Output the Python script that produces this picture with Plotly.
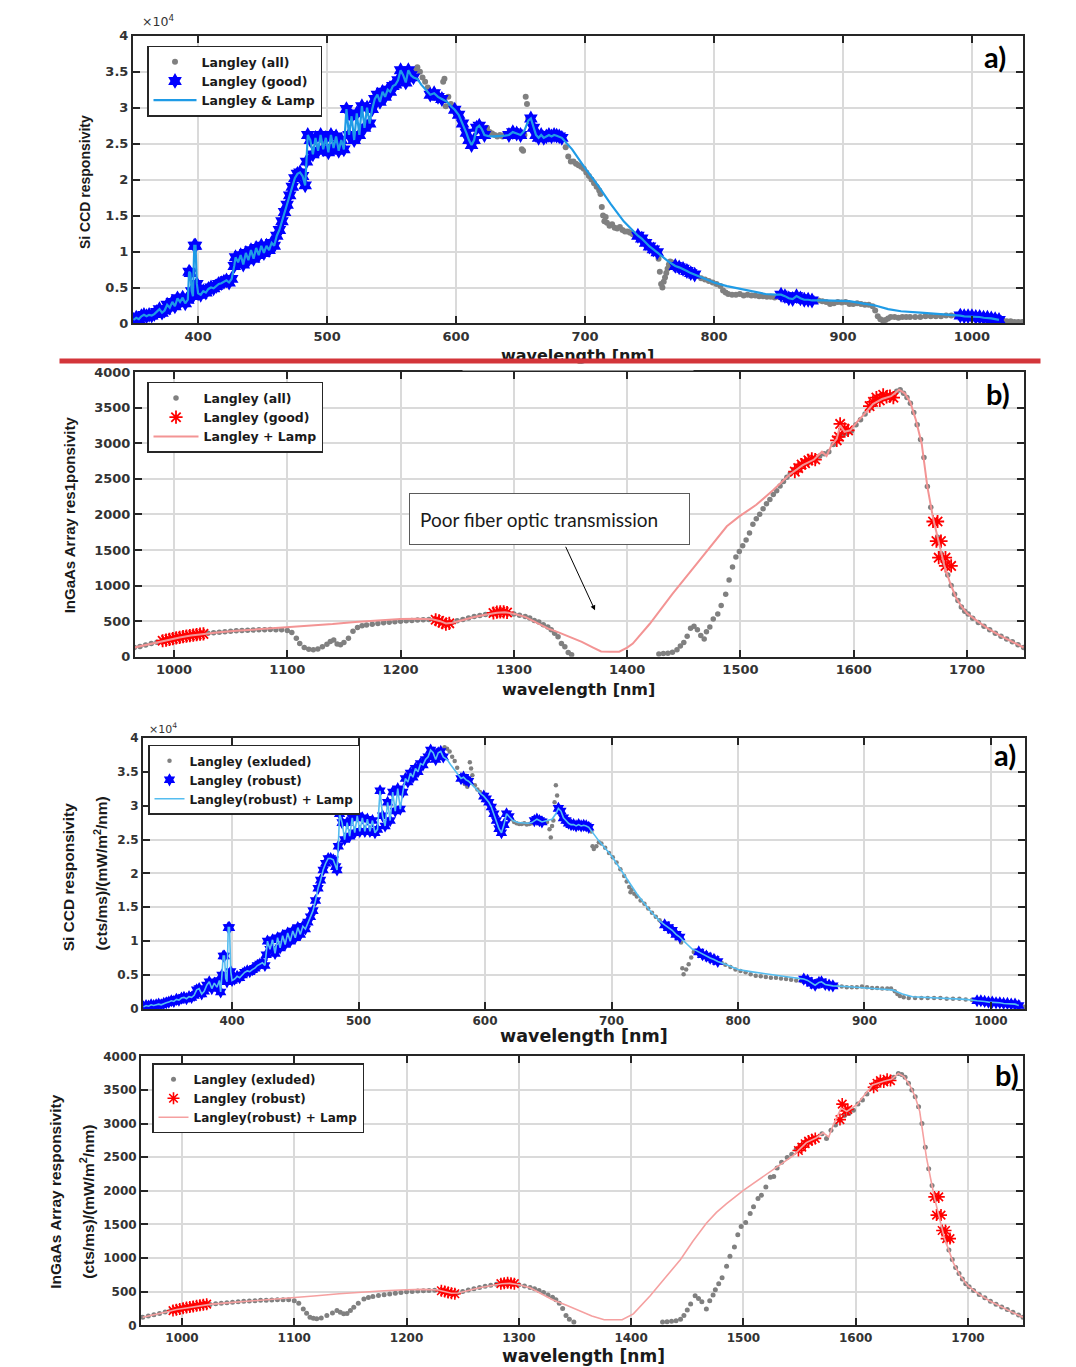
import plotly.graph_objects as go

W, H = 1076, 1367

# ================= Panel a (top): Si CCD responsivity, values in units of 1e4 =================
a1_good_wl = [
    350, 352, 354, 356, 358, 360, 362, 364, 366, 368, 370, 372, 374, 376, 378, 380, 382, 384, 386, 388, 390, 392,
    393, 394, 395, 396, 397, 398, 399,
    400, 402, 404, 406, 408, 410, 412, 414, 416, 418, 420, 422, 424, 426,
    428, 429, 431, 433, 435, 437, 439, 441, 443, 445, 447, 449, 451, 453, 455, 457, 459,
    461, 463, 465, 467, 469, 471, 473, 475, 477, 479, 481, 483,
    484, 485, 487, 489, 491, 493, 495, 497, 499, 501, 503, 505, 507, 509, 511, 513,
    515, 517, 519, 521, 523, 525, 527, 529, 531, 533, 535, 537, 539, 541,
    543, 545, 547, 549, 551, 553, 555, 557, 559, 561, 563, 565, 567,
    580, 583, 586, 589,
    599, 602, 605, 608, 610, 612, 614, 616, 618, 620, 622,
    641, 644, 647, 650,
    658, 660, 662, 664, 666, 668, 670, 672, 674, 676, 678, 680, 682,
    741, 744, 747, 750, 753, 756,
    770, 773, 776, 779, 782, 785,
    852, 855, 858, 861, 864, 867, 870, 873, 876,
    991, 994, 997, 1000, 1003, 1006, 1009, 1012, 1015, 1018, 1021]
a1_good_val = [
    0.05, 0.08, 0.06, 0.10, 0.12, 0.10, 0.12, 0.11, 0.13, 0.16, 0.20, 0.15, 0.18, 0.26, 0.22, 0.30, 0.24, 0.35, 0.30, 0.36, 0.28, 0.33,
    0.72, 0.70, 0.45, 0.38, 1.08, 1.08, 0.55,
    0.42, 0.40, 0.45, 0.43, 0.48, 0.50, 0.49, 0.52, 0.55, 0.56, 0.58, 0.60, 0.57, 0.62,
    0.80, 0.92, 0.85, 0.95, 0.82, 0.98, 0.88, 1.02, 0.90, 1.05, 0.95, 1.08, 0.98, 1.08, 1.02, 1.12, 1.08,
    1.22, 1.30, 1.42, 1.55, 1.65, 1.78, 1.90, 2.02, 2.08, 2.10, 2.05, 1.92,
    2.25, 2.62, 2.55, 2.35, 2.58, 2.40, 2.62, 2.42, 2.58, 2.38, 2.62, 2.44, 2.60, 2.40, 2.55, 2.42,
    2.98, 2.62, 2.88, 2.55, 2.92, 2.62, 3.02, 2.72, 3.00, 2.78, 2.98, 3.12, 3.18, 3.08,
    3.22, 3.15, 3.25, 3.22, 3.30, 3.32, 3.38, 3.52, 3.45, 3.35, 3.52, 3.45, 3.42,
    3.18, 3.20, 3.15, 3.12,
    2.97, 2.90, 2.78, 2.65, 2.55, 2.48, 2.55, 2.72, 2.75, 2.70, 2.62,
    2.62, 2.66, 2.64, 2.62,
    2.85, 2.72, 2.62, 2.58, 2.62, 2.58, 2.60, 2.62, 2.60, 2.62, 2.61, 2.60, 2.58,
    1.22, 1.18, 1.12, 1.07, 1.03, 0.99,
    0.80, 0.78, 0.76, 0.73, 0.70, 0.68,
    0.40, 0.38, 0.35, 0.34, 0.38, 0.35, 0.33, 0.33, 0.32,
    0.11, 0.10, 0.10, 0.10, 0.09, 0.09, 0.08, 0.08, 0.07, 0.06, 0.05]
a1_excl_wl = [
    568, 570, 572, 574, 576, 578,
    590, 591, 592, 594, 596, 598,
    624, 626, 628, 630, 632, 634, 636, 638,
    651, 652, 653, 654, 655, 656, 657,
    685, 687, 689, 691, 693, 695, 697, 699, 701, 703, 705, 707, 709, 711,
    712, 713, 714, 715, 716, 717,
    719, 721, 723, 725, 727, 729, 731, 733, 735, 737, 739,
    757, 758, 759, 760, 761, 762, 763, 764, 765, 766, 767,
    787, 790, 793, 796, 799, 802, 805, 807, 809, 811,
    814, 817, 820, 823, 826, 829, 832, 835, 838, 841, 844, 847, 850,
    878, 881, 884, 887, 890, 893, 896, 899, 902, 905, 908, 911, 914, 917, 920, 923,
    925, 927, 929, 931, 933, 935, 937,
    940, 943, 946, 949, 952, 956, 960, 964, 968, 972, 976, 980, 984, 988,
    1024, 1027, 1030, 1033, 1036, 1039]
a1_excl_val = [
    3.52, 3.56, 3.50, 3.42, 3.36, 3.28,
    3.36, 3.40, 3.02, 3.15, 3.05, 2.99,
    2.72, 2.66, 2.64, 2.62, 2.60, 2.62, 2.60, 2.63,
    2.42, 2.40, 2.62, 3.15, 3.05, 2.85, 2.78,
    2.45, 2.32, 2.25, 2.25, 2.22, 2.20, 2.18, 2.15, 2.10, 2.05, 2.00, 1.95, 1.90, 1.85,
    1.80, 1.62, 1.50, 1.42, 1.48, 1.40,
    1.36, 1.38, 1.33, 1.32, 1.34, 1.30, 1.28, 1.28, 1.26, 1.24, 1.22,
    0.90, 0.72, 0.55, 0.50, 0.58, 0.64, 0.70, 0.76, 0.82, 0.86, 0.85,
    0.66, 0.63, 0.61, 0.59, 0.57, 0.55, 0.52, 0.46, 0.43, 0.41,
    0.40, 0.40, 0.41, 0.39, 0.40, 0.39, 0.39, 0.38, 0.38, 0.37, 0.37, 0.36, 0.37,
    0.33, 0.32, 0.31, 0.30, 0.27, 0.28, 0.30, 0.29, 0.30, 0.27, 0.27, 0.28, 0.27, 0.26, 0.26, 0.24,
    0.18, 0.10, 0.06, 0.04, 0.05, 0.07, 0.09,
    0.09, 0.08, 0.09, 0.09, 0.09, 0.09, 0.09, 0.10, 0.10, 0.10, 0.10, 0.11, 0.11, 0.11,
    0.04, 0.03, 0.03, 0.02, 0.02, 0.02]
a1_lamp_wl = [570, 573, 576, 579, 593, 596, 626, 630, 634, 638, 653, 656,
              690, 700, 710, 720, 730, 738, 760, 764, 767,
              790, 800, 810, 820, 830, 840, 848,
              885, 895, 905, 915, 925, 935, 945, 960, 975, 988]
a1_lamp_val = [3.40, 3.32, 3.26, 3.20, 3.08, 3.02, 2.60, 2.60, 2.60, 2.61, 2.68, 2.82,
               2.42, 2.16, 1.92, 1.66, 1.42, 1.27, 0.93, 0.87, 0.83,
               0.64, 0.57, 0.52, 0.48, 0.44, 0.41, 0.40,
               0.32, 0.31, 0.31, 0.28, 0.25, 0.20, 0.17, 0.15, 0.13, 0.12]

# ================= Panel b (2nd): InGaAs responsivity =================
b1_good_wl = [990, 993, 996, 999, 1002, 1005, 1008, 1011, 1014, 1017, 1020, 1023, 1026,
              1231, 1234, 1237, 1240, 1243,
              1282, 1285, 1288, 1291, 1294,
              1548, 1551, 1554, 1557, 1560, 1563, 1566,
              1585, 1587, 1588, 1592, 1595,
              1614, 1617, 1620, 1623, 1626, 1629, 1632, 1635,
              1670, 1674, 1673, 1677, 1675, 1681, 1681, 1686]
b1_good_val = [225, 235, 245, 255, 265, 272, 282, 290, 298, 305, 312, 318, 322,
               520, 505, 480, 460, 470,
               615, 628, 632, 630, 622,
               2600, 2650, 2700, 2720, 2760, 2780, 2770,
               3040, 3090, 3270, 3200, 3180,
               3520, 3580, 3640, 3600, 3680, 3650, 3660, 3640,
               1900, 1900, 1624, 1624, 1392, 1392, 1276, 1276]
b1_line_wl = [965, 975, 985, 995, 1005, 1015, 1025, 1040, 1055, 1070, 1085, 1100, 1120, 1140, 1160,
              1180, 1200, 1215, 1228, 1235, 1240, 1246, 1255, 1265, 1275, 1285, 1292, 1300, 1310, 1320,
              1330, 1340, 1350, 1360, 1370, 1377, 1385, 1393, 1400, 1405, 1420, 1440, 1461, 1476, 1488,
              1499, 1514, 1529, 1543, 1555, 1565, 1572, 1576, 1580, 1585, 1588, 1592, 1597, 1603, 1610,
              1617, 1625, 1633, 1640, 1645, 1650, 1655, 1660, 1665, 1670, 1675, 1680, 1685, 1690, 1695,
              1700, 1710, 1720, 1730, 1740, 1750]
b1_line_val = [130, 165, 205, 240, 270, 298, 320, 345, 365, 380, 395, 410, 435, 460, 490,
               512, 530, 535, 528, 500, 468, 478, 520, 560, 590, 618, 625, 605, 560, 480,
               400, 340, 280, 210, 130, 75, 70, 72, 130, 185, 464, 882, 1299, 1600, 1833,
               1972, 2134, 2343, 2552, 2691, 2770, 2880, 2820, 2960, 3060, 3250, 3160, 3180, 3300, 3420,
               3550, 3620, 3660, 3750, 3700, 3573, 3318, 2993, 2390, 1950, 1620, 1280, 1040, 840, 710,
               610, 490, 380, 290, 210, 130]
b1_all_wl = [965, 970, 975, 980, 985, 990, 995, 1000, 1005, 1010, 1015, 1020, 1025, 1030, 1035, 1040,
             1045, 1050, 1055, 1060, 1065, 1070, 1075, 1080, 1085, 1090, 1095, 1100,
             1104, 1108, 1111, 1115, 1119, 1123, 1127, 1131, 1135, 1138, 1141, 1144, 1147, 1150, 1154,
             1158, 1162, 1166, 1170,
             1175, 1180, 1185, 1190, 1195, 1200, 1205, 1210, 1215, 1220, 1225, 1230, 1235, 1240, 1245,
             1250, 1255, 1260, 1265, 1270, 1275, 1280, 1285, 1290, 1295, 1300,
             1305, 1310, 1314, 1318, 1322, 1326, 1330, 1333, 1336, 1339, 1342, 1345, 1348, 1351,
             1428, 1432, 1436, 1440, 1444, 1447, 1450, 1453, 1456, 1459, 1462, 1465, 1468, 1470, 1473,
             1476, 1480, 1483, 1487, 1490, 1493, 1496, 1499, 1502, 1505, 1508, 1511, 1514, 1517, 1520,
             1523, 1526, 1529, 1532, 1535, 1538, 1541, 1544, 1547,
             1551, 1555, 1560, 1565, 1570, 1574, 1578, 1582, 1586, 1590, 1594, 1598, 1602, 1606, 1610,
             1614, 1618, 1622, 1626, 1630, 1634, 1638, 1641, 1644, 1647, 1650, 1653, 1656, 1659, 1662,
             1665, 1668, 1671, 1674, 1677, 1680, 1683, 1686, 1689, 1692, 1695, 1698, 1701, 1705, 1710,
             1715, 1720, 1725, 1730, 1735, 1740, 1745, 1750]
b1_all_val = [130, 145, 165, 185, 205, 222, 240, 258, 272, 288, 300, 312, 322, 330, 338, 345,
              352, 358, 364, 368, 372, 375, 378, 380, 382, 380, 378, 370,
              340, 260, 185, 130, 105, 100, 110, 140, 175, 215, 235, 180, 170, 200, 260,
              360, 410, 435, 445,
              458, 468, 478, 485, 492, 498, 505, 510, 515, 520, 525, 520, 505, 470, 478,
              505, 525, 545, 565, 580, 595, 605, 615, 622, 615, 600,
              585, 565, 545, 510, 487, 450, 420, 380, 330, 280, 185, 140, 60, 30,
              40, 45, 50, 65, 100, 150, 200, 290, 400, 430, 380, 300, 250, 350, 420,
              530, 600, 720, 880, 1080, 1260, 1400, 1480, 1560, 1640, 1740, 1860, 1940, 2000, 2080,
              2150, 2210, 2280, 2330, 2400, 2460, 2520, 2570, 2620,
              2660, 2700, 2730, 2780, 2820, 2850, 2880, 2980, 3060, 3110, 3140, 3170, 3260, 3330, 3410,
              3490, 3560, 3610, 3640, 3660, 3680, 3730, 3750, 3700, 3640, 3560, 3430, 3260, 3050, 2800,
              2390, 2100, 1900, 1680, 1450, 1290, 1150, 1000, 880, 790, 700, 640, 600, 540, 480,
              430, 380, 330, 290, 250, 210, 170, 130]

# ================= Panel a (3rd): Si CCD robust, values in units of 1e4 =================
a2_good_wl = [
    330, 332, 334, 336, 338, 340, 342, 344, 346, 348, 350, 352, 354, 356, 358, 360, 362, 364, 366, 368,
    370, 372, 374, 376, 378, 380, 382, 384, 386, 388, 390,
    391, 392, 393, 394, 395, 396, 397, 398, 399,
    400, 402, 404, 406, 408, 410, 412, 414, 416, 418, 420, 422, 424, 426,
    427, 428, 430, 432, 434, 436, 438, 440, 442, 444, 446, 448, 450, 452, 454, 456, 458,
    460, 462, 464, 466, 468, 470, 472, 474, 476, 478, 480, 482, 483,
    484, 485, 487, 489, 491, 493, 495, 497, 499, 501, 503, 505, 507, 509, 511, 513, 515,
    517, 519, 521, 523, 525, 527, 529, 531, 533, 535,
    537, 539, 541, 543, 545, 547, 549, 551, 553, 555, 557, 559, 561, 563, 565, 567,
    581, 583, 585, 587,
    599, 601, 603, 605, 607, 609, 611, 613, 615, 617, 619,
    639, 641, 643, 645,
    658, 660, 662, 664, 666, 668, 670, 672, 674, 676, 678, 680, 682,
    742, 745, 748, 751, 754,
    769, 772, 775, 778, 781, 784,
    852, 855, 858, 861, 864, 866, 869, 872, 875,
    989, 992, 995, 998, 1001, 1004, 1007, 1010, 1013, 1016, 1019, 1022]
a2_good_val = [
    0.03, 0.05, 0.04, 0.06, 0.05, 0.06, 0.07, 0.06, 0.08, 0.09, 0.10, 0.12, 0.11, 0.14, 0.13, 0.16, 0.17, 0.15, 0.18, 0.17,
    0.20, 0.28, 0.30, 0.22, 0.26, 0.35, 0.40, 0.30, 0.38, 0.32, 0.42,
    0.25, 0.50, 0.78, 0.78, 0.45, 0.40, 1.20, 1.20, 0.55,
    0.42, 0.44, 0.48, 0.46, 0.50, 0.54, 0.56, 0.55, 0.58, 0.60, 0.64, 0.66, 0.68, 0.64,
    0.80, 1.00, 0.88, 1.02, 0.82, 1.05, 0.90, 1.08, 0.95, 1.12, 1.00, 1.15, 1.05, 1.20, 1.10, 1.22, 1.18,
    1.28, 1.36, 1.45, 1.60, 1.78, 1.90, 2.05, 2.15, 2.22, 2.22, 2.20, 2.10, 2.05,
    2.40, 2.88, 2.75, 2.50, 2.75, 2.55, 2.82, 2.60, 2.85, 2.62, 2.82, 2.62, 2.80, 2.62, 2.78, 2.60, 2.65,
    3.22, 2.85, 2.70, 3.05, 2.78, 3.20, 2.92, 3.25, 2.95, 3.20,
    3.40, 3.35, 3.48, 3.42, 3.55, 3.50, 3.62, 3.60, 3.68, 3.72, 3.82, 3.78, 3.68, 3.78, 3.80, 3.72,
    3.40, 3.42, 3.38, 3.36,
    3.14, 3.10, 3.05, 2.98, 2.88, 2.78, 2.66, 2.60, 2.72, 2.88, 2.84,
    2.78, 2.80, 2.78, 2.76,
    2.96, 2.92, 2.82, 2.78, 2.74, 2.72, 2.72, 2.70, 2.72, 2.70, 2.71, 2.70, 2.68,
    1.24, 1.20, 1.16, 1.10, 1.06,
    0.84, 0.80, 0.78, 0.75, 0.73, 0.70,
    0.44, 0.42, 0.38, 0.35, 0.39, 0.40, 0.36, 0.35, 0.34,
    0.12, 0.12, 0.11, 0.10, 0.10, 0.09, 0.09, 0.08, 0.08, 0.07, 0.07, 0.05]
a2_excl_wl = [
    568, 570, 572, 574, 576, 578,
    584, 586, 588, 589, 590, 592, 594, 596,
    621, 623, 625, 627, 629, 631, 633, 635, 637,
    647, 649, 651, 652, 653, 654, 655, 656, 657,
    684, 685, 686, 688, 690, 692, 695, 698, 701, 704, 707, 710, 712, 714, 715, 716, 718, 720, 723, 726,
    729, 732, 735, 738, 741,
    755, 756, 757, 759, 761, 763, 765, 767,
    787, 790, 794, 798, 802, 806, 810, 814, 818, 822, 826, 830, 834, 838, 842, 846, 850,
    878, 882, 886, 890, 894, 898, 902, 906, 910, 914, 918, 921, 924, 926, 928, 931, 935, 940, 945, 950,
    955, 960, 965, 970, 975, 980, 985,
    1024, 1026]
a2_excl_val = [
    3.86, 3.84, 3.80, 3.72, 3.66, 3.56,
    3.32, 3.28, 3.64, 3.55, 3.45, 3.30, 3.24, 3.20,
    2.80, 2.76, 2.74, 2.73, 2.73, 2.74, 2.72, 2.73, 2.74,
    2.78, 2.76, 2.65, 2.53, 2.70, 2.78, 3.05, 3.30, 3.15,
    2.62, 2.40, 2.36, 2.40, 2.46, 2.44, 2.38, 2.30, 2.24, 2.16, 2.06, 1.96, 1.88, 1.80, 1.72, 1.76, 1.70, 1.66, 1.60, 1.55,
    1.48, 1.42, 1.36, 1.31, 1.26,
    0.98, 0.60, 0.51, 0.58, 0.66, 0.76, 0.84, 0.86,
    0.68, 0.65, 0.62, 0.58, 0.56, 0.54, 0.51, 0.49, 0.48, 0.47, 0.46, 0.46, 0.45, 0.44, 0.43, 0.42, 0.41,
    0.34, 0.33, 0.32, 0.32, 0.32, 0.33, 0.32, 0.31, 0.31, 0.30, 0.30, 0.30, 0.26, 0.22, 0.19, 0.17, 0.16, 0.16, 0.16, 0.16,
    0.16, 0.16, 0.15, 0.15, 0.15, 0.14, 0.13,
    0.04, 0.03]
a2_lamp_wl = [570, 573, 576, 579, 590, 594, 597, 622, 626, 630, 634, 637, 649, 653, 656,
              690, 700, 710, 720, 730, 738, 760, 764, 767,
              790, 800, 810, 820, 830, 840, 848,
              885, 895, 905, 915, 922, 930, 938, 950, 965, 980]
a2_lamp_val = [3.68, 3.60, 3.52, 3.44, 3.30, 3.22, 3.17, 2.78, 2.75, 2.74, 2.74, 2.75, 2.78, 2.80, 2.88,
               2.48, 2.26, 1.98, 1.70, 1.46, 1.30, 0.95, 0.88, 0.86,
               0.66, 0.58, 0.55, 0.52, 0.49, 0.47, 0.45,
               0.33, 0.32, 0.31, 0.29, 0.28, 0.22, 0.18, 0.17, 0.16, 0.14]

# ================= Panel b (4th): InGaAs robust =================
b2_good_wl = [992, 995, 998, 1001, 1004, 1007, 1010, 1013, 1016, 1019, 1022,
              1231, 1234, 1237, 1240, 1243,
              1284, 1287, 1290, 1293, 1296,
              1549, 1552, 1555, 1558, 1561, 1564,
              1586, 1588, 1591, 1593,
              1616, 1619, 1622, 1625, 1628, 1631,
              1670, 1674, 1672, 1676, 1677, 1680, 1681, 1684]
b2_good_val = [220, 232, 245, 255, 265, 272, 282, 292, 300, 308, 315,
               515, 505, 490, 478, 470,
               620, 628, 632, 628, 620,
               2600, 2650, 2700, 2740, 2760, 2780,
               3060, 3290, 3190, 3210,
               3540, 3600, 3640, 3620, 3660, 3640,
               1910, 1910, 1640, 1640, 1410, 1410, 1290, 1290]
b2_line_wl = [965, 975, 985, 995, 1005, 1015, 1025, 1040, 1055, 1070, 1085, 1100, 1120, 1140, 1160,
              1180, 1200, 1215, 1228, 1235, 1240, 1246, 1255, 1265, 1275, 1285, 1292, 1300, 1310, 1320,
              1330, 1343, 1355, 1365, 1376, 1392, 1402, 1417, 1430, 1444, 1455, 1467, 1476, 1485, 1500,
              1514, 1527, 1544, 1556, 1565, 1571, 1576, 1580, 1587, 1592, 1601, 1608, 1615, 1625, 1632,
              1638, 1643, 1648, 1653, 1657, 1663, 1670, 1679, 1687, 1693, 1700, 1710, 1719, 1730, 1740,
              1749]
b2_line_val = [122, 155, 195, 235, 262, 290, 312, 335, 355, 370, 385, 410, 440, 470, 495,
               515, 530, 535, 525, 500, 478, 482, 520, 560, 590, 620, 625, 605, 560, 470,
               380, 294, 210, 140, 83, 83, 171, 440, 700, 980, 1250, 1518, 1680, 1811, 2007,
               2170, 2326, 2521, 2717, 2790, 2864, 2800, 2980, 3231, 3180, 3280, 3430, 3574, 3630, 3660,
               3745, 3700, 3574, 3400, 3182, 2497, 1909, 1297, 930, 740, 587, 460, 367, 270, 190,
               122]
b2_excl_wl = [965, 970, 975, 980, 985, 990, 995, 1000, 1005, 1010, 1015, 1020, 1025, 1030, 1035, 1040,
              1045, 1050, 1055, 1060, 1065, 1070, 1075, 1080, 1085, 1090, 1095, 1100,
              1104, 1108, 1111, 1114, 1117, 1120, 1124, 1129, 1134, 1138, 1141, 1144, 1147, 1150, 1153,
              1157, 1162, 1166, 1170,
              1175, 1180, 1185, 1190, 1195, 1200, 1205, 1210, 1215, 1220, 1225, 1230, 1235, 1240, 1245,
              1250, 1255, 1260, 1265, 1270, 1275, 1280, 1285, 1290, 1295, 1300,
              1305, 1310, 1314, 1318, 1322, 1326, 1330, 1333, 1336, 1339, 1342, 1345, 1349,
              1428, 1432, 1436, 1440, 1444, 1447, 1450, 1453, 1457, 1460, 1463, 1467, 1470, 1473, 1475,
              1478, 1481, 1485, 1488, 1492, 1495, 1498, 1502, 1506, 1509, 1513, 1516, 1520, 1524, 1527,
              1530, 1534, 1539, 1543, 1547,
              1551, 1555, 1560, 1565, 1570, 1574, 1578, 1582, 1586, 1590, 1594, 1598, 1602, 1606, 1610,
              1614, 1618, 1622, 1626, 1630, 1634, 1638, 1641, 1644, 1647, 1650, 1653, 1656, 1659, 1662,
              1665, 1668, 1671, 1674, 1677, 1680, 1683, 1686, 1689, 1692, 1695, 1698, 1701, 1705, 1710,
              1715, 1720, 1725, 1730, 1735, 1740, 1745, 1749]
b2_excl_val = [122, 140, 158, 178, 198, 220, 235, 248, 262, 278, 290, 302, 312, 322, 330, 337,
               345, 352, 358, 363, 368, 372, 375, 378, 380, 382, 380, 367,
               330, 245, 180, 122, 105, 98, 110, 147, 185, 220, 195, 171, 175, 220, 269,
               330, 392, 415, 430,
               445, 455, 465, 478, 490, 500, 505, 510, 515, 520, 522, 515, 500, 478, 480,
               505, 525, 545, 565, 582, 598, 610, 620, 625, 618, 605,
               585, 565, 545, 520, 490, 450, 420, 380, 330, 250, 147, 90, 49,
               49, 55, 60, 68, 90, 147, 230, 318, 440, 400, 352, 245, 367, 450, 529,
               620, 710, 880, 1028, 1165, 1346, 1469, 1528, 1665, 1763, 1885, 1934, 2056, 2203, 2213,
               2340, 2424, 2497, 2546, 2620,
               2680, 2720, 2760, 2790, 2850, 2780, 2900, 2980, 3050, 3120, 3150, 3200, 3290, 3350, 3440,
               3530, 3590, 3630, 3650, 3660, 3690, 3745, 3730, 3690, 3600, 3500, 3400, 3250, 3000, 2650,
               2330, 2080, 1870, 1650, 1440, 1270, 1120, 980, 860, 770, 690, 620, 575, 520, 460,
               410, 360, 315, 275, 235, 195, 155, 122]


def merge(wa, va, wb, vb):
    pairs = sorted(zip(list(wa) + list(wb), list(va) + list(vb)))
    return [p[0] for p in pairs], [p[1] for p in pairs]


a1_all_wl, a1_all_val = merge(a1_good_wl, a1_good_val, a1_excl_wl, a1_excl_val)
a1_line_wl, a1_line_val = merge(a1_good_wl, a1_good_val, a1_lamp_wl, a1_lamp_val)
a2_line_wl, a2_line_val = merge(a2_good_wl, a2_good_val, a2_lamp_wl, a2_lamp_val)

GREY = "#808080"
FRAME = "#262626"
GRID = "#dadada"
TICKC = "#333333"


def px_x(x):
    return x / W


def px_y(y):
    return 1 - y / H


fig = go.Figure()

# panel 1
fig.add_trace(go.Scatter(x=a1_all_wl, y=a1_all_val, mode="markers", name="Langley (all)",
                         marker=dict(symbol="circle", size=6, color=GREY),
                         xaxis="x", yaxis="y", legend="legend"))
fig.add_trace(go.Scatter(x=a1_good_wl, y=a1_good_val, mode="markers", name="Langley (good)",
                         marker=dict(symbol="hexagram", size=12, color="#0000ff"),
                         xaxis="x", yaxis="y", legend="legend"))
fig.add_trace(go.Scatter(x=a1_line_wl, y=a1_line_val, mode="lines", name="Langley & Lamp",
                         line=dict(color="#1f9be6", width=2.2),
                         xaxis="x", yaxis="y", legend="legend"))
# panel 2
fig.add_trace(go.Scatter(x=b1_all_wl, y=b1_all_val, mode="markers", name="Langley (all)",
                         marker=dict(symbol="circle", size=5.5, color=GREY),
                         xaxis="x2", yaxis="y2", legend="legend2"))
fig.add_trace(go.Scatter(x=b1_good_wl, y=b1_good_val, mode="markers", name="Langley (good)",
                         marker=dict(symbol="asterisk-open", size=11, color="#ff0000",
                                     line=dict(color="#ff0000", width=1.8)),
                         xaxis="x2", yaxis="y2", legend="legend2"))
fig.add_trace(go.Scatter(x=b1_line_wl, y=b1_line_val, mode="lines", name="Langley + Lamp",
                         line=dict(color="#f39494", width=2),
                         xaxis="x2", yaxis="y2", legend="legend2"))
# panel 3
fig.add_trace(go.Scatter(x=a2_excl_wl, y=a2_excl_val, mode="markers", name="Langley (exluded)",
                         marker=dict(symbol="circle", size=4.5, color=GREY),
                         xaxis="x3", yaxis="y3", legend="legend3"))
fig.add_trace(go.Scatter(x=a2_good_wl, y=a2_good_val, mode="markers", name="Langley (robust)",
                         marker=dict(symbol="hexagram", size=10, color="#0000ff"),
                         xaxis="x3", yaxis="y3", legend="legend3"))
fig.add_trace(go.Scatter(x=a2_line_wl, y=a2_line_val, mode="lines", name="Langley(robust) + Lamp",
                         line=dict(color="#55bdf0", width=1.6),
                         xaxis="x3", yaxis="y3", legend="legend3"))
# panel 4
fig.add_trace(go.Scatter(x=b2_excl_wl, y=b2_excl_val, mode="markers", name="Langley (exluded)",
                         marker=dict(symbol="circle", size=5, color=GREY),
                         xaxis="x4", yaxis="y4", legend="legend4"))
fig.add_trace(go.Scatter(x=b2_good_wl, y=b2_good_val, mode="markers", name="Langley (robust)",
                         marker=dict(symbol="asterisk-open", size=10, color="#ff0000",
                                     line=dict(color="#ff0000", width=1.6)),
                         xaxis="x4", yaxis="y4", legend="legend4"))
fig.add_trace(go.Scatter(x=b2_line_wl, y=b2_line_val, mode="lines", name="Langley(robust) + Lamp",
                         line=dict(color="#f5a0a0", width=1.6),
                         xaxis="x4", yaxis="y4", legend="legend4"))


def xax(l, r, rng, anchor, fs):
    return dict(domain=[px_x(l), px_x(r)], range=rng, anchor=anchor, dtick=100, tick0=0,
                showgrid=True, gridcolor=GRID, gridwidth=1.5, zeroline=False,
                showline=True, linecolor=FRAME, linewidth=2, mirror="allticks",
                ticks="inside", ticklen=7, tickwidth=1.5, tickcolor=FRAME,
                tickfont=dict(family="DejaVu Sans", size=fs, color=TICKC, weight="bold"))


def yax(top, bot, rng, dtick, anchor, fs, fmt=None):
    d = dict(domain=[px_y(bot), px_y(top)], range=rng, anchor=anchor, dtick=dtick, tick0=0,
             showgrid=True, gridcolor=GRID, gridwidth=1.5, zeroline=False,
             showline=True, linecolor=FRAME, linewidth=2, mirror="allticks",
             ticks="inside", ticklen=7, tickwidth=1.5, tickcolor=FRAME,
             tickfont=dict(family="DejaVu Sans", size=fs, color=TICKC, weight="bold"))
    if fmt:
        d["tickformat"] = fmt
    return d


def leg(xp, yp, fs, iw):
    return dict(x=px_x(xp), y=px_y(yp), xanchor="left", yanchor="top", bgcolor="white",
                bordercolor=FRAME, borderwidth=1.5, itemwidth=iw, tracegroupgap=0,
                font=dict(family="DejaVu Sans", size=fs, color="#1a1a1a", weight="bold"))


def txt(text, x, y, size, family="DejaVu Sans", weight="bold", color="#1a1a1a", angle=0, **kw):
    d = dict(text=text, x=px_x(x), y=px_y(y), xref="paper", yref="paper", showarrow=False,
             textangle=angle, xanchor="center", yanchor="middle",
             font=dict(family=family, size=size, color=color, weight=weight))
    d.update(kw)
    return d


annotations = [
    txt("×10<sup>4</sup>", 158, 14, 12.5, weight="normal", color="#333333"),
    txt("×10<sup>4</sup>", 163, 729, 11, weight="normal", color="#333333"),
    txt("a)", 995, 50, 29, family="Lato", color="black"),
    txt("b)", 998, 391, 29, family="Lato", color="black"),
    txt("a)", 1005, 756, 29, family="Lato", color="black"),
    txt("b)", 1007, 1079, 29, family="Lato", color="black"),
    # y titles
    txt("Si CCD responsivity", 85, 177, 14, family="Liberation Sans", angle=-90),
    txt("InGaAs Array res1ponsivity", 69, 514, 15, family="Liberation Sans", angle=-90),
    txt("Si CCD responsivity", 68, 880, 15.5, family="Liberation Sans", angle=-90),
    txt("(cts/ms)/(mW/m<sup>2</sup>/nm)", 101, 876, 15.5, family="Liberation Sans", angle=-90),
    txt("InGaAs Array responsivity", 56, 1198, 15.5, family="Liberation Sans", angle=-90),
    txt("(cts/ms)/(mW/m<sup>2</sup>/nm)", 87, 1208, 15.5, family="Liberation Sans", angle=-90),
    # x titles
    txt("wavelength [nm]", 577, 352, 16),
    txt("wavelength [nm]", 578, 690, 16),
    txt("wavelength [nm]", 584, 1040, 17.5),
    txt("wavelength [nm]", 583, 1364, 17),
    # callout
    dict(text="Poor fiber optic transmission", x=px_x(409), y=px_y(491), xref="paper", yref="paper",
         xanchor="left", yanchor="top", showarrow=False, align="left", valign="middle",
         width=259, height=30, borderpad=10, borderwidth=1, bordercolor="#5a5a5a", bgcolor="white",
         font=dict(family="Lato", size=19, color="#1a1a1a")),
    dict(text="", x=px_x(595), y=px_y(610), xref="paper", yref="paper", showarrow=True,
         ax=-30, ay=-65, axref="pixel", ayref="pixel", arrowhead=2, arrowsize=1, arrowwidth=1,
         arrowcolor="black", standoff=0, startstandoff=0),
    # separator between figures (hides lower part of the top x title)
    dict(text=" ", x=px_x(578), y=px_y(359.5), xref="paper", yref="paper", showarrow=False,
         xanchor="center", yanchor="top", width=230, height=6, borderpad=0, bgcolor="white",
         font=dict(size=1)),
    dict(text=" ", x=px_x(550), y=px_y(358), xref="paper", yref="paper", showarrow=False,
         xanchor="center", yanchor="middle", width=980, height=4, borderpad=0, bgcolor="#d3353a",
         font=dict(size=1)),
]

fig.update_layout(
    width=W, height=H, autosize=False,
    margin=dict(l=0, r=0, t=0, b=0),
    paper_bgcolor="white", plot_bgcolor="white",
    showlegend=True,
    xaxis=xax(133, 1023, [349.5, 1039.6], "y", 13),
    yaxis=yax(29, 320, [0, 4], 0.5, "x", 13),
    xaxis2=xax(135, 1024, [965.6, 1750.3], "y2", 13),
    yaxis2=yax(369, 657, [0, 4000], 500, "x2", 13, "d"),
    xaxis3=xax(143, 1025, [329.6, 1026.9], "y3", 12),
    yaxis3=yax(739, 1013, [0, 4], 0.5, "x3", 12),
    xaxis4=xax(141, 1023, [963.5, 1749], "y4", 12),
    yaxis4=yax(1061, 1333, [0, 4000], 500, "x4", 12, "d"),
    legend=leg(147, 39, 12.5, 43),
    legend2=leg(147, 379, 12.5, 45),
    legend3=leg(148, 746, 12, 30),
    legend4=leg(152, 1068, 12, 30),
    annotations=annotations,
)

fig.write_html(
    "out.html",
    config={"displayModeBar": False},
    post_script=(
        "document.documentElement.style.margin='0';document.body.style.margin='0';"
        "document.documentElement.style.overflow='hidden';document.body.style.overflow='hidden';"
    ),
)
